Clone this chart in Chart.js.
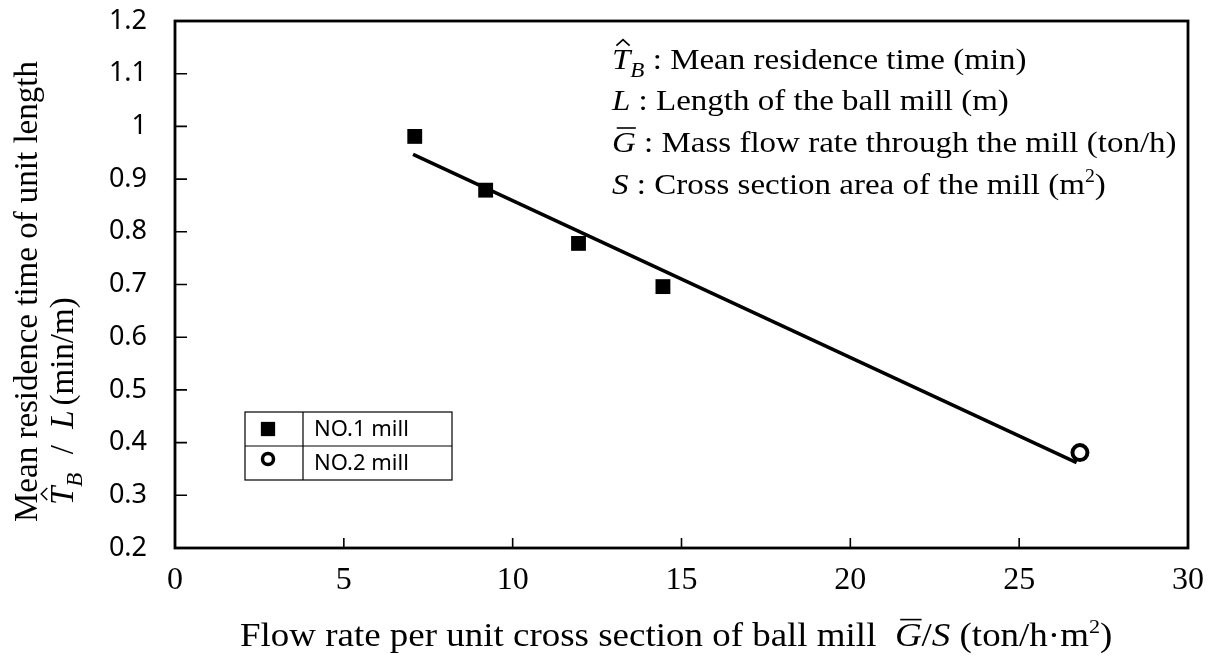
<!DOCTYPE html>
<html>
<head>
<meta charset="utf-8">
<script src="https://cdn.jsdelivr.net/npm/chart.js@4/dist/chart.umd.min.js"></script>
<style>
  html, body { margin: 0; padding: 0; background: #fff; }
</style>
</head>
<body>
<canvas id="graph" width="1216" height="663"></canvas>
<script>
// NO.1 mill measurements
const mill1X = [7.1, 9.2, 11.95, 14.45];
const mill1Y = [0.981, 0.879, 0.778, 0.696];
// NO.2 mill measurement
const mill2X = [26.8];
const mill2Y = [0.381];
// regression line end points
const fitX = [7.05, 26.7];
const fitY = [0.947, 0.362];

const xTicks = [0, 5, 10, 15, 20, 25, 30];
const yTicks = [0.2, 0.3, 0.4, 0.5, 0.6, 0.7, 0.8, 0.9, 1, 1.1, 1.2];

const SERIF = '"Liberation Serif", "Times New Roman", serif';
const SANS = '"Noto Sans", "DejaVu Sans", sans-serif';

const zip = (xs, ys) => xs.map((x, i) => ({ x: x, y: ys[i] }));

// draws runs of text one after another, with italic / sub / sup / bar / hat
function drawRuns(ctx, runs, x, y, size) {
  let cx = x;
  runs.forEach(r => {
    let s = size, dy = 0;
    if (r.sub) { s = size * 0.7; dy = size * 0.28; }
    if (r.sup) { s = size * 0.6; dy = -size * 0.4; }
    ctx.font = (r.it ? 'italic ' : '') + s + 'px ' + SERIF;
    ctx.fillText(r.t, cx, y + dy);
    const w = ctx.measureText(r.t).width;
    if (r.bar) {
      ctx.beginPath();
      ctx.lineWidth = 1.6;
      ctx.moveTo(cx + w * 0.2, y - size * 0.8);
      ctx.lineTo(cx + w * 1.0, y - size * 0.8);
      ctx.stroke();
    }
    if (r.hat) {
      const mx = cx + w * 0.6, hy = y - size * 0.78;
      ctx.beginPath();
      ctx.lineWidth = 1.5;
      ctx.moveTo(mx - 6, hy);
      ctx.lineTo(mx, hy - 6);
      ctx.lineTo(mx + 6, hy);
      ctx.stroke();
    }
    cx += w + (r.gap || 0);
  });
}

const decor = {
  id: 'decor',
  afterDraw(chart) {
    const ctx = chart.ctx;
    const a = chart.chartArea;
    const xs = chart.scales.x, ys = chart.scales.y;
    ctx.save();
    ctx.strokeStyle = '#000';
    ctx.fillStyle = '#000';

    // frame
    ctx.lineWidth = 2.8;
    ctx.strokeRect(a.left, a.top, a.right - a.left, a.bottom - a.top);

    // inward tick marks
    ctx.lineWidth = 1.6;
    ctx.beginPath();
    xTicks.slice(1, -1).forEach(v => {
      const px = xs.getPixelForValue(v);
      ctx.moveTo(px, a.bottom);
      ctx.lineTo(px, a.bottom - 10);
    });
    yTicks.slice(1, -1).forEach(v => {
      const py = ys.getPixelForValue(v);
      ctx.moveTo(a.left, py);
      ctx.lineTo(a.left + 12, py);
    });
    ctx.stroke();

    // notation block
    ctx.textBaseline = 'alphabetic';
    ctx.textAlign = 'left';
    const fs = 30;
    ctx.save();
    ctx.translate(612, 0);
    ctx.scale(1.1, 1);
    drawRuns(ctx, [{ t: 'T', it: true, hat: true }, { t: 'B', it: true, sub: true }, { t: ' : Mean residence time (min)' }], 0, 69, fs);
    drawRuns(ctx, [{ t: 'L', it: true }, { t: ' : Length of the ball mill (m)' }], 0, 110, fs);
    drawRuns(ctx, [{ t: 'G', it: true, bar: true }, { t: ' : Mass flow rate through the mill (ton/h)' }], 0, 152, fs);
    drawRuns(ctx, [{ t: 'S', it: true }, { t: ' : Cross section area of the mill (m' }, { t: '2', sup: true }, { t: ')' }], 0, 194, fs);
    ctx.restore();

    // legend table
    const lx = 245, ly = 412, lw = 207, rh = 34, cw = 58;
    ctx.lineWidth = 1.2;
    ctx.strokeRect(lx, ly, lw, rh * 2);
    ctx.beginPath();
    ctx.moveTo(lx, ly + rh); ctx.lineTo(lx + lw, ly + rh);
    ctx.moveTo(lx + cw, ly); ctx.lineTo(lx + cw, ly + rh * 2);
    ctx.stroke();
    const ds1 = chart.data.datasets[0], ds2 = chart.data.datasets[1];
    Chart.helpers.drawPoint(ctx, { pointStyle: ds1.pointStyle, radius: 10, borderWidth: 0 }, lx + 23, ly + rh / 2);
    ctx.fill();
    ctx.fillStyle = '#fff';
    ctx.lineWidth = 3.5;
    Chart.helpers.drawPoint(ctx, { pointStyle: 'circle', radius: 5.5, borderWidth: 3.5 }, lx + 23, ly + rh * 1.5 - 4);
    ctx.fillStyle = '#000';
    ctx.font = '22px ' + SANS;
    ctx.textBaseline = 'middle';
    ctx.fillText(ds1.label, lx + cw + 11, ly + rh / 2 + 1);
    ctx.fillText(ds2.label, lx + cw + 11, ly + rh * 1.5 + 1);

    // axis titles
    ctx.textBaseline = 'alphabetic';
    ctx.save();
    ctx.translate(240, 0);
    ctx.scale(1.12, 1);
    drawRuns(ctx, [{ t: 'Flow rate per unit cross section of ball mill  ' }, { t: 'G', it: true, bar: true }, { t: '/' }, { t: 'S', it: true }, { t: ' (ton/h\u00b7m' }, { t: '2', sup: true }, { t: ')' }], 0, 646, 33);
    ctx.restore();

    ctx.rotate(-Math.PI / 2);
    drawRuns(ctx, [{ t: 'Mean residence time of unit length' }], -522, 37, 33);
    drawRuns(ctx, [{ t: 'T', it: true, hat: true }, { t: 'B', it: true, sub: true, gap: 10 }, { t: ' / ', gap: 8 }, { t: 'L', it: true, gap: 5 }, { t: '(min/m)' }], -505, 73, 33);
    ctx.restore();
  }
};

new Chart(document.getElementById('graph').getContext('2d'), {
  type: 'scatter',
  data: {
    datasets: [
      {
        label: 'NO.1 mill',
        data: zip(mill1X, mill1Y),
        pointStyle: 'rect',
        pointRadius: 10.5,
        backgroundColor: '#000',
        borderColor: '#000',
        borderWidth: 0
      },
      {
        label: 'NO.2 mill',
        data: zip(mill2X, mill2Y),
        pointStyle: 'circle',
        pointRadius: 7.5,
        pointBorderWidth: 4,
        backgroundColor: '#fff',
        borderColor: '#000'
      },
      {
        label: 'fit',
        data: zip(fitX, fitY),
        showLine: true,
        pointRadius: 0,
        borderColor: '#000',
        borderWidth: 3.5,
        order: 5
      }
    ]
  },
  options: {
    responsive: false,
    animation: false,
    devicePixelRatio: 1,
    layout: { padding: { top: 21, right: 28, left: 0, bottom: 0 } },
    plugins: {
      legend: { display: false },
      tooltip: { enabled: false }
    },
    scales: {
      x: {
        type: 'linear',
        min: 0,
        max: 30,
        afterBuildTicks: s => { s.ticks = xTicks.map(v => ({ value: v })); },
        afterFit: s => { s.height = 115; s.paddingLeft = 0; s.paddingRight = 0; },
        grid: { display: false },
        border: { display: false },
        ticks: {
          color: '#000',
          padding: 5,
          font: { family: SERIF, size: 32 }
        }
      },
      y: {
        type: 'linear',
        min: 0.2,
        max: 1.2,
        afterBuildTicks: s => { s.ticks = yTicks.map(v => ({ value: v })); },
        afterFit: s => { s.width = 175; s.paddingTop = 0; s.paddingBottom = 0; },
        grid: { display: false },
        border: { display: false },
        ticks: {
          color: '#000',
          padding: 20,
          font: { family: SANS, size: 27 },
          callback: v => String(v)
        }
      }
    }
  },
  plugins: [decor]
});
</script>
</body>
</html>
